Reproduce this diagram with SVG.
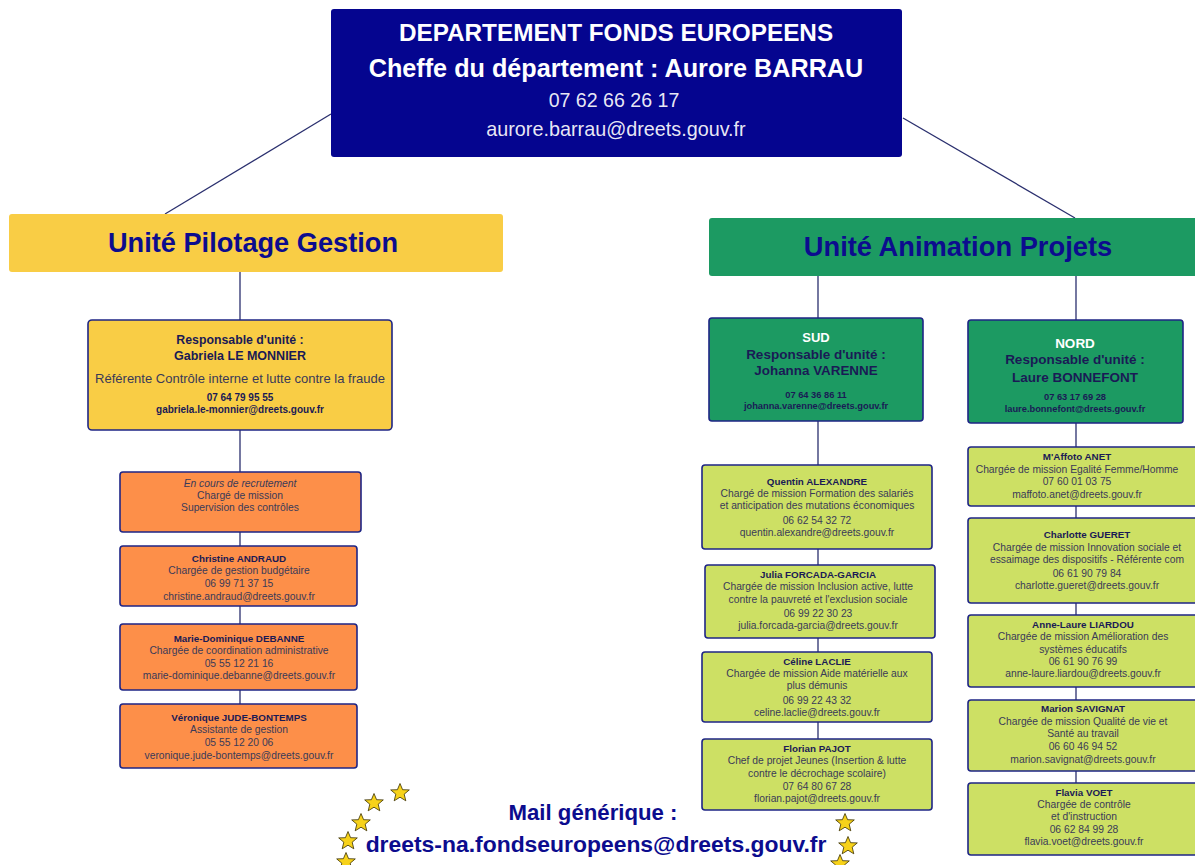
<svg xmlns="http://www.w3.org/2000/svg" width="1195" height="865" viewBox="0 0 1195 865">
<defs>
<style>
text{font-family:"Liberation Sans",Arial,sans-serif;text-anchor:middle}
.w{fill:#ffffff}
.nv{fill:#0c0c8e;font-weight:bold}
.nm{fill:#1a1a55;font-weight:bold;font-size:9.8px}
.bd{fill:#3a3a58;font-size:10.3px}
.sm{fill:#1a1a55;font-weight:bold;font-size:9.3px}
.yb{fill:#f9cd45;stroke:#1e2585;stroke-width:1.6}
.ob{fill:#fd8f49;stroke:#1e2585;stroke-width:1.6}
.gb{fill:#1c9a62;stroke:#1e2585;stroke-width:1.6}
.lb{fill:#cde064;stroke:#1e2585;stroke-width:1.6}
.ln{stroke:#2a2f6e;stroke-width:1.3;fill:none}
.star{fill:#f7d21a;stroke:#3a3000;stroke-width:0.8}
</style>
<path id="st" d="M0,-9.5 L2.6,-3.3 L9.3,-3.1 L4.2,1.2 L5.8,7.8 L0,4.2 L-5.8,7.8 L-4.2,1.2 L-9.3,-3.1 L-2.6,-3.3 Z"/>
</defs>

<g id="connectors">
<line class="ln" x1="331" y1="114" x2="165" y2="214"/>
<line class="ln" x1="903" y1="118" x2="1075" y2="218"/>
<line class="ln" x1="240" y1="272" x2="240" y2="320"/>
<line class="ln" x1="240" y1="430" x2="240" y2="472"/>
<line class="ln" x1="240" y1="532" x2="240" y2="546"/>
<line class="ln" x1="240" y1="606" x2="240" y2="624"/>
<line class="ln" x1="240" y1="690" x2="240" y2="704"/>
<line class="ln" x1="818" y1="276" x2="818" y2="318"/>
<line class="ln" x1="818" y1="421" x2="818" y2="465"/>
<line class="ln" x1="818" y1="549" x2="818" y2="565"/>
<line class="ln" x1="818" y1="638" x2="818" y2="652"/>
<line class="ln" x1="818" y1="722" x2="818" y2="739"/>
<line class="ln" x1="1076" y1="276" x2="1076" y2="320"/>
<line class="ln" x1="1076" y1="423" x2="1076" y2="447"/>
<line class="ln" x1="1076" y1="506" x2="1076" y2="518"/>
<line class="ln" x1="1076" y1="603" x2="1076" y2="615"/>
<line class="ln" x1="1076" y1="687" x2="1076" y2="700"/>
<line class="ln" x1="1076" y1="771" x2="1076" y2="783"/>
</g>

<g id="dept">
<rect x="331" y="9" width="571" height="148" rx="3" fill="#05058f"/>
<text x="616" y="41" class="w" style="font-size:24.3px;font-weight:bold">DEPARTEMENT FONDS EUROPEENS</text>
<text x="616" y="77" class="w" style="font-size:25.2px;font-weight:bold">Cheffe du département : Aurore BARRAU</text>
<text x="614" y="107" class="w" style="font-size:19.6px" fill-opacity="0.92">07 62 66 26 17</text>
<text x="616" y="136" class="w" style="font-size:19.8px" fill-opacity="0.92">aurore.barrau@dreets.gouv.fr</text>
</g>

<g id="unit-pilotage">
<rect x="9" y="214" width="494" height="58" rx="3" fill="#f9cd45"/>
<text x="253" y="252" class="nv" style="font-size:27.2px">Unité Pilotage Gestion</text>
</g>

<g id="unit-animation">
<rect x="709" y="218" width="500" height="58" rx="3" fill="#1c9a62"/>
<text x="958" y="256" class="nv" style="font-size:27.3px">Unité Animation Projets</text>
</g>

<g id="resp-pilotage">
<rect class="yb" x="88" y="320" width="304" height="110" rx="4"/>
<text x="240" y="344" class="nm" style="font-size:12.3px">Responsable d'unité :</text>
<text x="240" y="360" class="nm" style="font-size:12.5px">Gabriela LE MONNIER</text>
<text x="240" y="383" class="bd" style="font-size:13px">Référente Contrôle interne et lutte contre la fraude</text>
<text x="240" y="401" class="sm" style="font-size:10px">07 64 79 95 55</text>
<text x="240" y="413" class="sm" style="font-size:10px">gabriela.le-monnier@dreets.gouv.fr</text>
</g>

<g id="recrutement">
<rect class="ob" x="120" y="472" width="241" height="60" rx="3"/>
<text x="240" y="487" class="bd" font-style="italic">En cours de recrutement</text>
<text x="240" y="499" class="bd">Chargé de mission</text>
<text x="240" y="511" class="bd">Supervision des contrôles</text>
</g>

<g id="andraud">
<rect class="ob" x="120" y="546" width="237" height="60" rx="3"/>
<text x="239" y="562" class="nm">Christine ANDRAUD</text>
<text x="239" y="574" class="bd">Chargée de gestion budgétaire</text>
<text x="239" y="587" class="bd">06 99 71 37 15</text>
<text x="239" y="600" class="bd">christine.andraud@dreets.gouv.fr</text>
</g>

<g id="debanne">
<rect class="ob" x="120" y="624" width="237" height="66" rx="3"/>
<text x="239" y="642" class="nm">Marie-Dominique DEBANNE</text>
<text x="239" y="654" class="bd">Chargée de coordination administrative</text>
<text x="239" y="667" class="bd">05 55 12 21 16</text>
<text x="239" y="679" class="bd">marie-dominique.debanne@dreets.gouv.fr</text>
</g>

<g id="jude-bontemps">
<rect class="ob" x="120" y="704" width="237" height="64" rx="3"/>
<text x="239" y="721" class="nm">Véronique JUDE-BONTEMPS</text>
<text x="239" y="733" class="bd">Assistante de gestion</text>
<text x="239" y="746" class="bd">05 55 12 20 06</text>
<text x="239" y="759" class="bd">veronique.jude-bontemps@dreets.gouv.fr</text>
</g>

<g id="sud">
<rect class="gb" x="709" y="318" width="214" height="103" rx="3"/>
<text x="816" y="342" class="w" style="font-size:13px;font-weight:bold">SUD</text>
<text x="816" y="359" class="nm" style="font-size:13.5px">Responsable d'unité :</text>
<text x="816" y="375" class="nm" style="font-size:13.4px">Johanna VARENNE</text>
<text x="816" y="398" class="sm">07 64 36 86 11</text>
<text x="816" y="409" class="sm">johanna.varenne@dreets.gouv.fr</text>
</g>

<g id="nord">
<rect class="gb" x="968" y="320" width="215" height="103" rx="3"/>
<text x="1075" y="348" class="w" style="font-size:13.5px;font-weight:bold">NORD</text>
<text x="1075" y="364" class="nm" style="font-size:13.5px">Responsable d'unité :</text>
<text x="1075" y="382" class="nm" style="font-size:13.5px">Laure BONNEFONT</text>
<text x="1075" y="400" class="sm">07 63 17 69 28</text>
<text x="1075" y="412" class="sm">laure.bonnefont@dreets.gouv.fr</text>
</g>

<g id="alexandre">
<rect class="lb" x="702" y="465" width="230" height="84" rx="3"/>
<text x="817" y="485" class="nm">Quentin ALEXANDRE</text>
<text x="817" y="497" class="bd">Chargé de mission Formation des salariés</text>
<text x="817" y="509" class="bd">et anticipation des mutations économiques</text>
<text x="817" y="524" class="bd">06 62 54 32 72</text>
<text x="817" y="536" class="bd">quentin.alexandre@dreets.gouv.fr</text>
</g>

<g id="forcada">
<rect class="lb" x="705" y="565" width="230" height="73" rx="3"/>
<text x="818" y="578" class="nm">Julia FORCADA-GARCIA</text>
<text x="818" y="590" class="bd">Chargée de mission Inclusion active, lutte</text>
<text x="818" y="603" class="bd">contre la pauvreté et l'exclusion sociale</text>
<text x="818" y="617" class="bd">06 99 22 30 23</text>
<text x="818" y="629" class="bd">julia.forcada-garcia@dreets.gouv.fr</text>
</g>

<g id="laclie">
<rect class="lb" x="702" y="652" width="230" height="70" rx="3"/>
<text x="817" y="665" class="nm">Céline LACLIE</text>
<text x="817" y="677" class="bd">Chargée de mission Aide matérielle aux</text>
<text x="817" y="689" class="bd">plus démunis</text>
<text x="817" y="704" class="bd">06 99 22 43 32</text>
<text x="817" y="716" class="bd">celine.laclie@dreets.gouv.fr</text>
</g>

<g id="pajot">
<rect class="lb" x="702" y="739" width="230" height="71" rx="3"/>
<text x="817" y="752" class="nm">Florian PAJOT</text>
<text x="817" y="764" class="bd">Chef de projet Jeunes (Insertion &amp; lutte</text>
<text x="817" y="777" class="bd">contre le décrochage scolaire)</text>
<text x="817" y="790" class="bd">07 64 80 67 28</text>
<text x="817" y="802" class="bd">florian.pajot@dreets.gouv.fr</text>
</g>

<g id="anet">
<rect class="lb" x="968" y="447" width="235" height="59" rx="3"/>
<text x="1077" y="460" class="nm">M'Affoto ANET</text>
<text x="1077" y="473" class="bd">Chargée de mission Egalité Femme/Homme</text>
<text x="1077" y="485" class="bd">07 60 01 03 75</text>
<text x="1077" y="498" class="bd">maffoto.anet@dreets.gouv.fr</text>
</g>

<g id="gueret">
<rect class="lb" x="968" y="518" width="235" height="85" rx="3"/>
<text x="1087" y="538" class="nm">Charlotte GUERET</text>
<text x="1087" y="551" class="bd">Chargée de mission Innovation sociale et</text>
<text x="1087" y="563" class="bd">essaimage des dispositifs - Référente com</text>
<text x="1087" y="577" class="bd">06 61 90 79 84</text>
<text x="1087" y="589" class="bd">charlotte.gueret@dreets.gouv.fr</text>
</g>

<g id="liardou">
<rect class="lb" x="968" y="615" width="235" height="72" rx="3"/>
<text x="1083" y="628" class="nm">Anne-Laure LIARDOU</text>
<text x="1083" y="640" class="bd">Chargée de mission Amélioration des</text>
<text x="1083" y="653" class="bd">systèmes éducatifs</text>
<text x="1083" y="665" class="bd">06 61 90 76 99</text>
<text x="1083" y="677" class="bd">anne-laure.liardou@dreets.gouv.fr</text>
</g>

<g id="savignat">
<rect class="lb" x="968" y="700" width="235" height="71" rx="3"/>
<text x="1083" y="712" class="nm">Marion SAVIGNAT</text>
<text x="1083" y="725" class="bd">Chargée de mission Qualité de vie et</text>
<text x="1083" y="737" class="bd">Santé au travail</text>
<text x="1083" y="750" class="bd">06 60 46 94 52</text>
<text x="1083" y="763" class="bd">marion.savignat@dreets.gouv.fr</text>
</g>

<g id="voet">
<rect class="lb" x="968" y="783" width="235" height="72" rx="3"/>
<text x="1084" y="796" class="nm">Flavia VOET</text>
<text x="1084" y="808" class="bd">Chargée de contrôle</text>
<text x="1084" y="820" class="bd">et d'instruction</text>
<text x="1084" y="833" class="bd">06 62 84 99 28</text>
<text x="1084" y="845" class="bd">flavia.voet@dreets.gouv.fr</text>
</g>

<g id="mail">
<text x="593" y="820" class="nv" style="font-size:22.2px">Mail générique :</text>
<text x="596" y="852" class="nv" style="font-size:22.9px">dreets-na.fondseuropeens@dreets.gouv.fr</text>
</g>

<g id="stars">
<use href="#st" class="star" x="400" y="793"/>
<use href="#st" class="star" x="374" y="803"/>
<use href="#st" class="star" x="361" y="823"/>
<use href="#st" class="star" x="348" y="841"/>
<use href="#st" class="star" x="346" y="862"/>
<use href="#st" class="star" x="845" y="823"/>
<use href="#st" class="star" x="848" y="846"/>
<use href="#st" class="star" x="840" y="864"/>
</g>
</svg>
